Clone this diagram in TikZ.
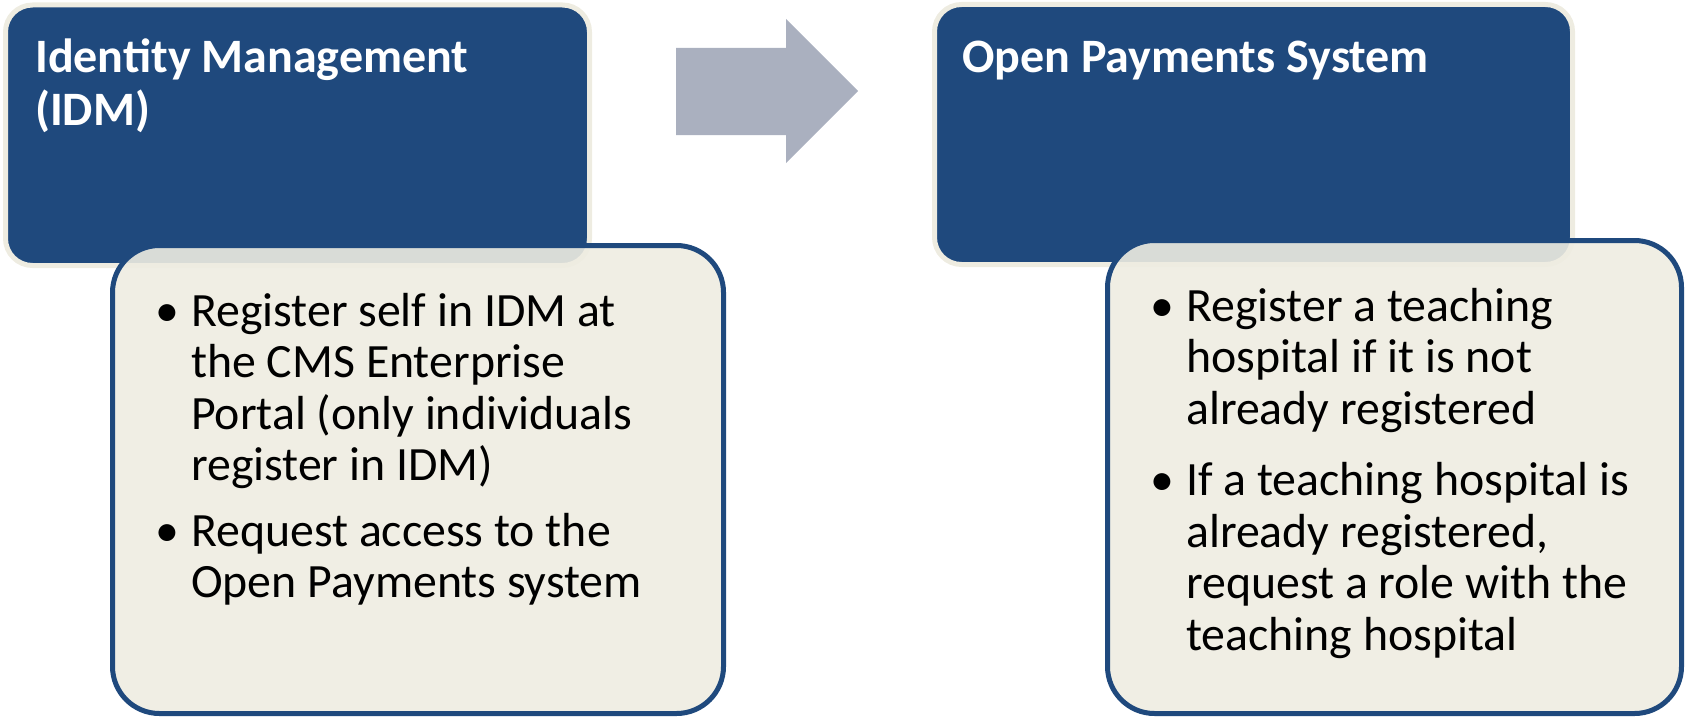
\documentclass[tikz,border=0pt]{standalone}
\usepackage{fontspec}
\setmainfont{Carlito}
\definecolor{headblue}{HTML}{1F497D}
\definecolor{paper}{HTML}{EEECE1}
\definecolor{arrowgray}{HTML}{AAB0BF}

\begin{document}
\begin{tikzpicture}[x=1pt, y=-1pt,
  headbox/.style={fill=headblue, draw=paper, line width=5pt, rounded corners=27pt},
  notebox/.style={fill=paper, fill opacity=0.9, draw=headblue, line width=5pt, rounded corners=47pt},
  headtext/.style={inner sep=0pt, anchor=base west, text=white, font=\fontsize{48}{53}\selectfont\bfseries},
  notetext/.style={inner sep=0pt, anchor=base west, font=\fontsize{47.8}{51.5}\selectfont}]
  \useasboundingbox (0,0) rectangle (1685,717);
  % title boxes
  \draw[headbox] (5.5,5) rectangle (589.5,265.5);
  \draw[headbox] (934.5,4.5) rectangle (1572.5,264.5);
  % arrow between the steps
  \fill[arrowgray] (676,48) -- (786,48) -- (786,19) -- (858,91) -- (786,163) -- (786,135) -- (676,135) -- cycle;
  % note boxes
  \draw[notebox] (112.5,245.5) rectangle (723.5,713.5);
  \draw[notebox] (1107.5,240.5) rectangle (1681.5,713.5);
  \node[headtext] (idmhead) at (35,72) {\begin{tabular}[t]{@{}l@{}}Identity Management\\(IDM)\end{tabular}};
  \node[headtext] (ophead) at (962,72) {Open Payments System};
  \node[notetext] (idmlist) at (155,326) {\begin{tabular}[t]{@{}l@{}l@{}}
    \makebox[36pt][l]{\textbullet} & Register self in IDM at\\
    & the CMS Enterprise\\
    & Portal (only individuals\\
    & register in IDM)\\[14pt]
    \makebox[36pt][l]{\textbullet} & Request access to the\\
    & Open Payments system
  \end{tabular}};
  \node[notetext] (oplist) at (1150,321) {\begin{tabular}[t]{@{}l@{}l@{}}
    \makebox[36pt][l]{\textbullet} & Register a teaching\\
    & hospital if it is not\\
    & already registered\\[20pt]
    \makebox[36pt][l]{\textbullet} & If a teaching hospital is\\
    & already registered,\\
    & request a role with the\\
    & teaching hospital
  \end{tabular}};
\end{tikzpicture}
\end{document}
